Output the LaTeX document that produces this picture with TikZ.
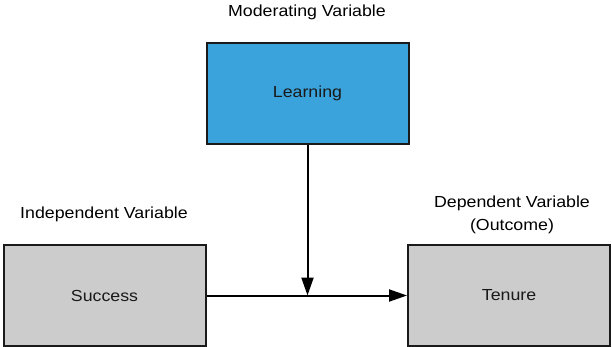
\documentclass[tikz,border=0pt]{standalone}
\usepackage{fontspec}
\setmainfont{Liberation Sans}[FakeStretch=1.11]
\usetikzlibrary{arrows.meta}
\definecolor{boxblue}{HTML}{3AA3DC}
\definecolor{boxgrey}{HTML}{CCCCCC}
\definecolor{edge}{HTML}{1A1A1A}
\begin{document}
\begin{tikzpicture}[x=1pt,y=-1pt,
  box/.style={draw=edge, line width=2pt, minimum width=202pt, minimum height=101pt, inner sep=0pt, font=\fontsize{16}{19}\selectfont, text=black!90},
  lbl/.style={font=\fontsize{16}{23}\selectfont, align=center, text=black, inner sep=0pt},
  conn/.style={draw=black, line width=2pt, -{Triangle[length=18pt,width=12pt]}}]
\useasboundingbox (0,0) rectangle (612,347);
\node[box, fill=boxblue] (learn) at (307.5,93.5) {Learning};
\node[box, fill=boxgrey] (succ) at (104.5,295.5) {Success};
\node[box, fill=boxgrey] (ten) at (509,295.5) {Tenure};
\node[lbl] (mod) at (307,12) {Moderating Variable};
\node[lbl] (ind) at (104,214) {Independent Variable};
\node[lbl] (dep) at (512,215) {Dependent Variable\\(Outcome)};
\coordinate (meet) at (learn.south |- succ.east);
\draw[conn] (succ.east) -- (ten.west);
\draw[conn] (learn.south) -- (meet);
\end{tikzpicture}
\end{document}
